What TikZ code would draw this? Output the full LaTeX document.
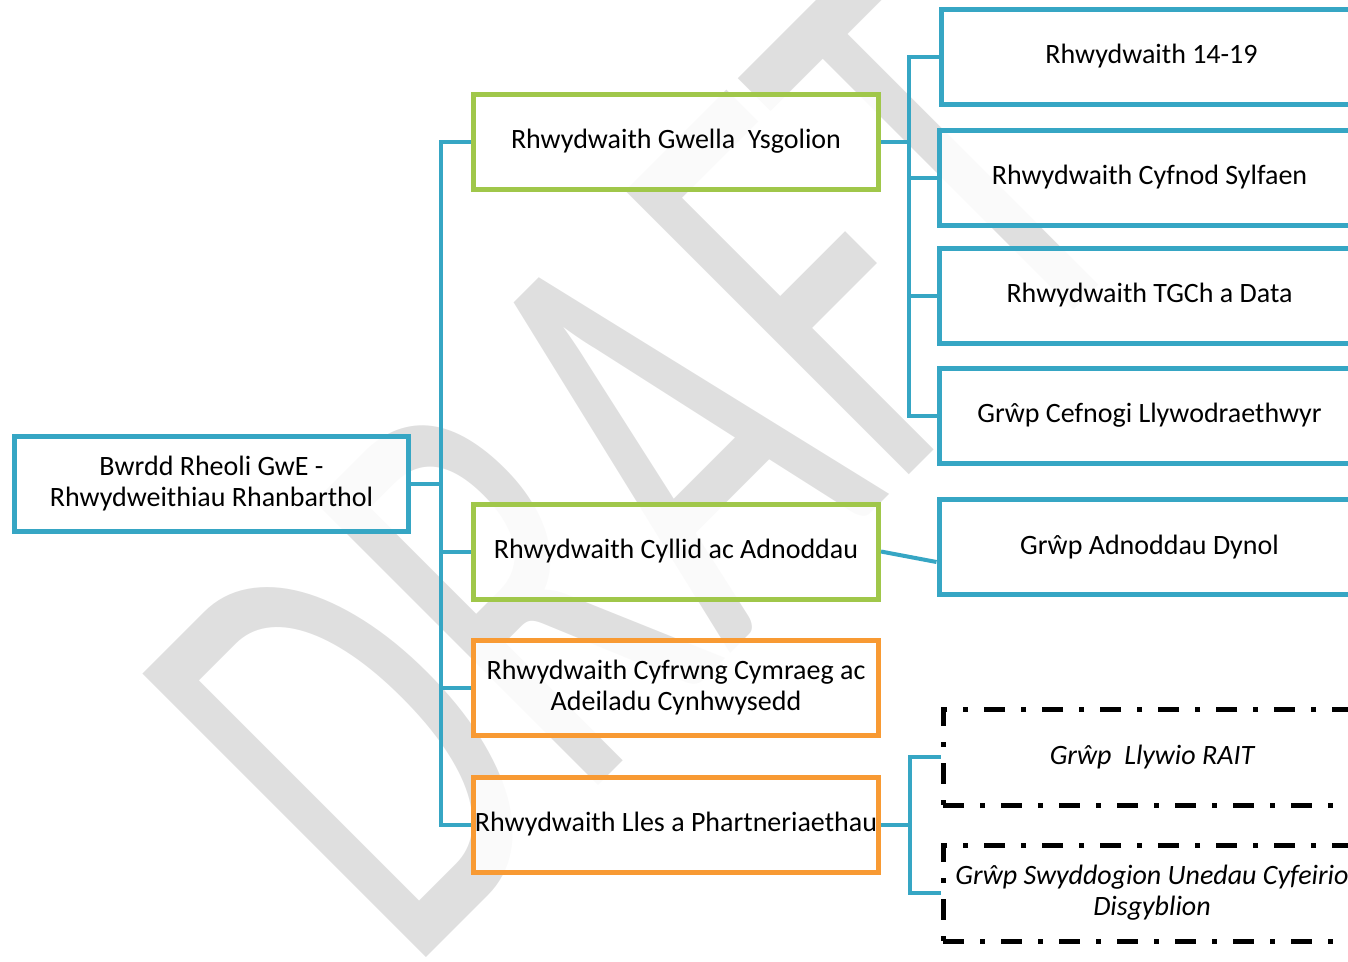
\documentclass[tikz,border=0pt]{standalone}
\usepackage{fontspec}
\setmainfont{Carlito}
\usepackage{tikz}

\definecolor{netblue}{HTML}{36A6C4}
\definecolor{netgreen}{HTML}{A0C74A}
\definecolor{netorange}{HTML}{F89A33}
\definecolor{draftgrey}{HTML}{DFDFDF}

\tikzset{
  box/.style={draw, rectangle, line width=5pt, fill=white, fill opacity=0.85, text opacity=1,
    align=center, inner sep=0pt, minimum height=95pt, font=\fontsize{28}{31}\selectfont},
  bluebox/.style={box, draw=netblue},
  greenbox/.style={box, draw=netgreen, minimum width=405pt},
  orangebox/.style={box, draw=netorange, minimum width=405pt},
  netbox/.style={bluebox, minimum width=421pt},
  groupbox/.style={box, draw=black, minimum width=418pt, minimum height=96pt,
    dash pattern=on 21pt off 16pt on 5pt off 16pt, font=\fontsize{28}{31}\selectfont\itshape},
  conn/.style={draw=netblue, line width=4pt}
}

\begin{document}
\begin{tikzpicture}[x=1pt, y=-1pt]
            \path[use as bounding box, clip] (0,0) rectangle (1348,961);
            \node (draft) [rotate=45, xscale=0.63, anchor=base west, inner sep=0pt, text=draftgrey,
              font=\fontsize{625}{625}\selectfont] at (407,977) {DRAFT};

            \node (root) [bluebox, minimum width=394pt] at (211.5,483.5) {Bwrdd Rheoli GwE -\\Rhwydweithiau Rhanbarthol};
            \node (gwella) [greenbox] at (676,141.5) {Rhwydwaith Gwella~ Ysgolion};
            \node (cyllid) [greenbox] at (676,551.5) {Rhwydwaith Cyllid ac Adnoddau};
            \node (cymraeg) [orangebox] at (676,688) {Rhwydwaith Cyfrwng Cymraeg ac\\Adeiladu Cynhwysedd};
            \node (lles) [orangebox] at (676,824.5) {Rhwydwaith Lles a Phartneriaethau};

            \node (n1419) [netbox] at (1151.5,56.5) {Rhwydwaith 14-19};
            \node (sylfaen) [netbox] at (1149.5,177.5) {Rhwydwaith Cyfnod Sylfaen};
            \node (tgch) [netbox] at (1149.5,295.5) {Rhwydwaith TGCh a Data};
            \node (llyw) [netbox] at (1149.5,415.5) {Grŵp Cefnogi Llywodraethwyr};
            \node (dynol) [netbox] at (1149.5,547) {Grŵp Adnoddau Dynol};

            \node (rait) [groupbox] at (1152,757) {Grŵp~ Llywio RAIT};
            \node (pru) [groupbox] at (1152,893) {Grŵp Swyddogion Unedau Cyfeirio\\Disgyblion};

            \coordinate (spine) at (441,0);
            \coordinate (rspine) at (909,0);
            \coordinate (lspine) at (910,0);

            \draw[conn] (root.east) -- (root.east -| spine);
            \draw[conn] (gwella.west) -- (gwella.west -| spine) -- (lles.west -| spine) -- (lles.west);
            \draw[conn] (cyllid.west) -- (cyllid.west -| spine);
            \draw[conn] (cymraeg.west) -- (cymraeg.west -| spine);

            \draw[conn] (gwella.east) -- (gwella.east -| rspine);
            \draw[conn] (n1419.west) -- (n1419.west -| rspine) -- (llyw.west -| rspine) -- (llyw.west);
            \draw[conn] (sylfaen.west) -- (sylfaen.west -| rspine);
            \draw[conn] (tgch.west) -- (tgch.west -| rspine);
            \draw[conn] (cyllid.east) -- ([yshift=-15pt]dynol.west);

            \draw[conn] (lles.east) -- (lles.east -| lspine);
            \draw[conn] (rait.west) -- (rait.west -| lspine) -- (pru.west -| lspine) -- (pru.west);
        \end{tikzpicture}
\end{document}
